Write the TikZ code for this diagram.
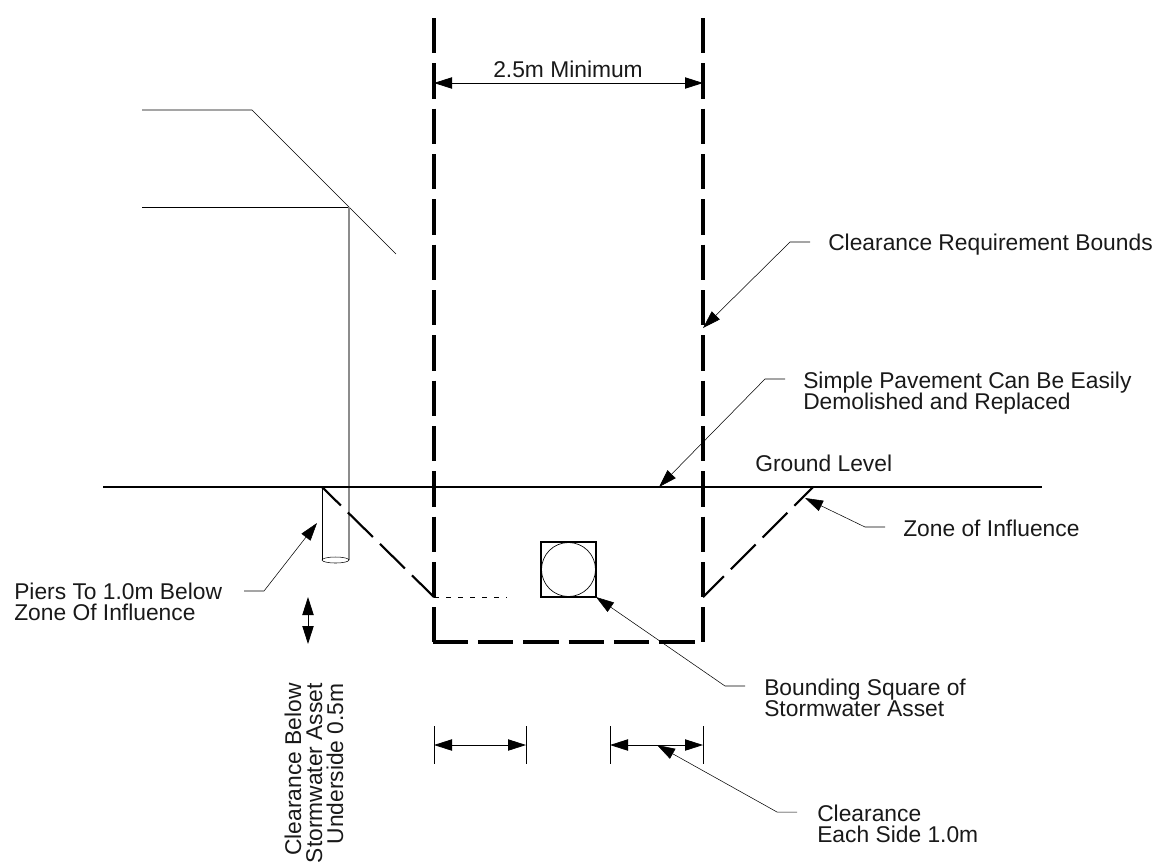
\documentclass[tikz,border=0pt]{standalone}
\usepackage{fontspec}
\setmainfont{Liberation Sans}
\usetikzlibrary{arrows.meta}
\definecolor{thin}{gray}{0.38}
\tikzset{
  x=0.75pt,y=-0.75pt,
  heavy/.style={line width=2.5pt,black,dash pattern=on 26.6pt off 7.4pt},
  ground/.style={line width=1.9pt,black},
  zone/.style={line width=1.6pt,black,dash pattern=on 26.3pt off 7.4pt,dash phase=6.5pt},
  fine/.style={line width=0.6pt,thin},
  dim/.style={line width=0.6pt,black},
  tipped/.style={-{Triangle[length=13.5pt,width=8.5pt,black]}},
  both/.style={{Triangle[length=13.5pt,width=8.5pt,black]}-{Triangle[length=13.5pt,width=8.5pt,black]}},
  lbl/.style={inner sep=0pt,font=\fontsize{17.1pt}{18pt}\selectfont,anchor=base west,text=black!90},
  vlbl/.style={lbl,rotate=90,anchor=base east},
}
\begin{document}
\begin{tikzpicture}
\useasboundingbox (0,0) rectangle (1155,861);
% named points
\coordinate (tl) at (434,18); \coordinate (bl) at (434,642);
\coordinate (tr) at (703,18); \coordinate (br) at (703,642);
\coordinate (gl) at (103,487); \coordinate (gr) at (1042,487);
\coordinate (zl0) at (322,487); \coordinate (zl1) at (434,597);
\coordinate (zr0) at (813,487); \coordinate (zr1) at (703,597);
% roof, pier
\draw[fine] (142,110) -- (252,110) -- (396,254);
\draw[fine] (142,207) -- (349,207);
\draw[line width=0.9pt,black!45] (349,207) -- (349,560);
\draw[fine] (322,487) -- (322,560);
\draw[fine] (335.5,560) ellipse (13.5 and 3);
% bounds
\draw[heavy] (tl) -- (bl);
\draw[heavy] (tr) -- (br);
\draw[heavy] (432.5,642) -- (br);
% ground and zone
\draw[ground] (gl) -- (gr);
\draw[zone] (zl0) -- (zl1);
\draw[zone] (zr0) -- (zr1);
% asset
\draw[line width=1.3pt,black] (541,542) rectangle (596,597);
\draw[fine,line width=0.5pt] (568.5,569.5) circle (27);
\draw[line width=0.4pt,thin,dash pattern=on 4pt off 5pt] (434,597) -- (507,597);
% dimensions
\node[lbl] (dimtop) at (493,77) {2.5m Minimum};
\coordinate (da) at (434,83); \coordinate (db) at (703,83);
\draw[dim,both] (da) -- (db);
\foreach \n/\x in {e1/434,e2/526,e3/610,e4/703}{
  \coordinate (\n a) at (\x,726); \coordinate (\n b) at (\x,764); \coordinate (\n m) at (\x,745);
  \draw[fine] (\n a) -- (\n b);
}
\draw[dim,both] (e1m) -- (e2m);
\draw[dim,both] (e3m) -- (e4m);
\coordinate (va) at (308,597); \coordinate (vb) at (308,644);
\draw[dim,both] (va) -- (vb);
% labels
\node[lbl] (bounds) at (828,250) {Clearance Requirement Bounds};
\node[lbl] (pave) at (803,388) {Simple Pavement Can Be Easily};
\node[lbl] (pave2) at (803,409) {Demolished and Replaced};
\node[lbl] (gl1) at (755,471) {Ground Level};
\node[lbl] (zi) at (903,536) {Zone of Influence};
\node[lbl] (pier) at (14,599) {Piers To 1.0m Below};
\node[lbl] (pier2) at (14,620) {Zone Of Influence};
\node[lbl] (bs) at (764,695) {Bounding Square of};
\node[lbl] (bs2) at (764,716) {Stormwater Asset};
\node[lbl] (ce) at (817,821) {Clearance};
\node[lbl] (ce2) at (817,842) {Each Side 1.0m};
\node[vlbl] (v1) at (301,683) {Clearance Below};
\node[vlbl] (v2) at (322,683) {Stormwater Asset};
\node[vlbl] (v3) at (343,683) {Underside 0.5m};
% leaders
\draw[fine,tipped] (810,242) -- (790,242) -- (703,328);
\draw[fine,tipped] (785,379) -- (765,379) -- (659,487);
\draw[fine,tipped] (885,527) -- (865,527) -- (805,498);
\draw[fine,tipped] (244,591) -- (264,591) -- (317,523);
\draw[fine,tipped] (745,686) -- (725,686) -- (596,597);
\draw[fine,tipped] (797,812) -- (777,812) -- (657,745);
\end{tikzpicture}
\end{document}
